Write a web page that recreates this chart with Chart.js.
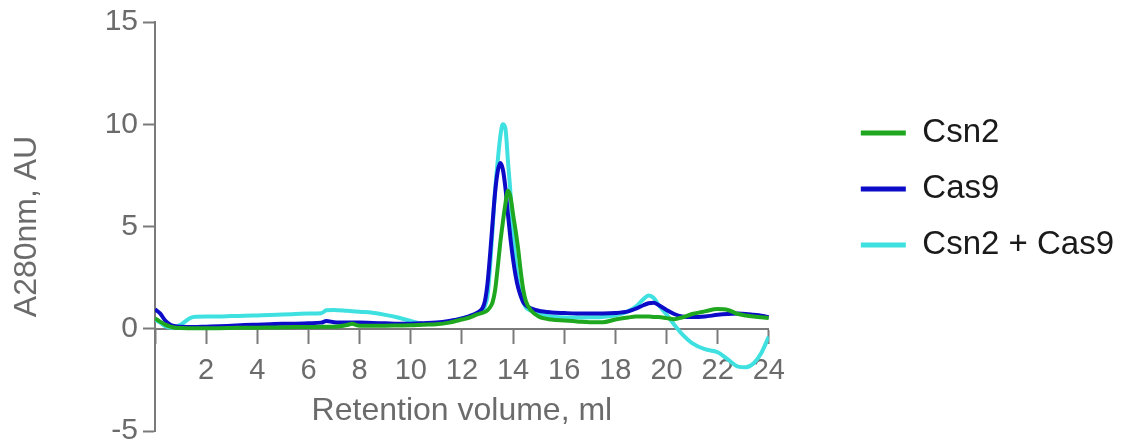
<!DOCTYPE html>
<html>
<head>
<meta charset="utf-8">
<title>SEC traces</title>
<script src="https://cdn.jsdelivr.net/npm/chart.js@4"></script>
<style>
  html, body { margin: 0; padding: 0; background: #fff; }
  #wrap { width: 1129px; height: 444px; }
</style>
</head>
<body>
<div id="wrap"><canvas id="secChart" width="1129" height="444"></canvas></div>
<script>
// retention volume (ml), shared by all three traces
const volume = [0, 0.2, 0.4, 0.6, 0.8, 1, 1.5, 2, 2.5, 3, 3.5, 4, 4.5, 5, 5.5, 6, 6.5, 6.7, 7, 7.5, 7.7, 8, 8.5, 9, 9.5, 10, 10.5, 11, 11.5, 12, 12.3, 12.6, 12.8, 12.9, 13.0, 13.1, 13.2, 13.3, 13.4, 13.5, 13.6, 13.7, 13.8, 13.9, 14.0, 14.1, 14.2, 14.3, 14.4, 14.5, 14.7, 15, 15.5, 16, 16.5, 17, 17.5, 18, 18.5, 18.8, 19.1, 19.3, 19.5, 19.7, 20, 20.3, 20.6, 21, 21.5, 22, 22.4, 22.8, 23.1, 23.4, 23.7, 24];

// A280 readings (AU)
const csn2 = [0.5, 0.35, 0.2, 0.1, 0.05, 0.04, 0.03, 0.03, 0.03, 0.04, 0.05, 0.05, 0.06, 0.07, 0.08, 0.08, 0.1, 0.1, 0.1, 0.18, 0.24, 0.15, 0.15, 0.15, 0.16, 0.17, 0.2, 0.22, 0.3, 0.45, 0.55, 0.7, 0.78, 0.82, 0.9, 1.05, 1.3, 1.9, 3.0, 4.2, 5.2, 6.1, 6.75, 6.45, 5.6, 4.8, 3.9, 2.8, 1.9, 1.35, 0.9, 0.6, 0.45, 0.4, 0.36, 0.32, 0.32, 0.45, 0.55, 0.6, 0.6, 0.6, 0.58, 0.57, 0.52, 0.47, 0.55, 0.72, 0.85, 0.96, 0.92, 0.72, 0.65, 0.6, 0.56, 0.52];
const cas9 = [0.95, 0.75, 0.4, 0.2, 0.12, 0.1, 0.08, 0.1, 0.12, 0.15, 0.18, 0.2, 0.22, 0.24, 0.25, 0.27, 0.3, 0.38, 0.32, 0.3, 0.3, 0.3, 0.28, 0.27, 0.25, 0.25, 0.27, 0.3, 0.38, 0.5, 0.62, 0.78, 1.0, 1.35, 2.2, 3.6, 5.2, 6.7, 7.7, 8.1, 7.8, 6.9, 5.6, 4.4, 3.4, 2.6, 2.0, 1.6, 1.3, 1.15, 1.0, 0.88, 0.8, 0.77, 0.75, 0.75, 0.75, 0.77, 0.85, 0.98, 1.15, 1.25, 1.27, 1.15, 0.92, 0.72, 0.6, 0.57, 0.6, 0.68, 0.72, 0.74, 0.72, 0.68, 0.64, 0.57];
const complex = [0.45, 0.3, 0.12, 0.05, 0.08, 0.2, 0.58, 0.6, 0.6, 0.62, 0.63, 0.65, 0.67, 0.7, 0.72, 0.74, 0.76, 0.9, 0.92, 0.88, 0.86, 0.83, 0.78, 0.68, 0.55, 0.38, 0.25, 0.27, 0.35, 0.5, 0.6, 0.75, 0.9, 1.1, 1.6, 3.0, 4.9, 6.8, 8.2, 9.4, 10.0, 9.8, 8.2, 6.6, 4.6, 3.3, 2.3, 1.7, 1.3, 1.05, 0.88, 0.72, 0.6, 0.55, 0.55, 0.56, 0.58, 0.66, 0.85, 1.08, 1.45, 1.62, 1.5, 1.15, 0.7, 0.2, -0.25, -0.7, -1.0, -1.15, -1.5, -1.85, -1.88, -1.7, -1.2, -0.38];

const seriesNames = ['Csn2', 'Cas9', 'Csn2 + Cas9'];
const seriesColors = ['#1fa81f', '#0c0cc8', '#3fe0e0'];
const xTicks = [2, 4, 6, 8, 10, 12, 14, 16, 18, 20, 22, 24];
const yTicks = [-5, 0, 5, 10, 15];

const axisGray = '#7a7a7a';
const textGray = '#6b6b6b';
const fontFamily = 'Arial, "Liberation Sans", sans-serif';

function toPoints(values) {
    return values.map((v, i) => ({ x: volume[i], y: v }));
}

const datasets = [csn2, cas9, complex].map((vals, i) => ({
    label: seriesNames[i],
    data: toPoints(vals),
    borderColor: seriesColors[i],
    backgroundColor: seriesColors[i],
    borderWidth: 4,
    pointRadius: 0,
    cubicInterpolationMode: 'monotone',
    fill: false
}));

new Chart(document.getElementById('secChart'), {
    type: 'line',
    data: { datasets: datasets },
    options: {
        responsive: false,
        animation: false,
        devicePixelRatio: 1,
        layout: { padding: { top: 22, bottom: 13, left: 0, right: 5 } },
        plugins: {
            tooltip: { enabled: false },
            legend: {
                position: 'right',
                align: 'start',
                maxWidth: 400, // otherwise capped to a share of the canvas width
                title: { display: true, text: '', font: { size: 10 }, padding: { top: 59.5, bottom: 0 } },
                labels: {
                    font: { size: 33, family: fontFamily },
                    color: '#1a1a1a',
                    boxWidth: 45,
                    boxHeight: 5,
                    padding: 23,
                    generateLabels: function(chart) {
                        return Chart.defaults.plugins.legend.labels.generateLabels(chart)
                            .map(item => Object.assign(item, { lineWidth: 0 }));
                    }
                }
            }
        },
        scales: {
            x: {
                type: 'linear',
                position: { y: 0 },
                min: 0,
                max: 24,
                afterBuildTicks: s => { s.ticks = [0].concat(xTicks).map(v => ({ value: v })); },
                ticks: {
                    callback: v => (v === 0 ? '' : v),
                    font: { size: 29, family: fontFamily },
                    color: textGray,
                    padding: 11,
                    maxRotation: 0,
                    autoSkip: false
                },
                grid: { drawOnChartArea: false, tickLength: 14, tickWidth: 2, tickColor: axisGray },
                border: { display: true, color: axisGray, width: 2 },
                title: {
                    display: true,
                    text: 'Retention volume, ml',
                    font: { size: 32, family: fontFamily },
                    color: textGray,
                    padding: { top: -8, bottom: 0 }
                }
            },
            y: {
                type: 'linear',
                position: 'left',
                min: -5,
                max: 15,
                afterBuildTicks: s => { s.ticks = yTicks.map(v => ({ value: v })); },
                afterFit: s => { s.width = 155; s.paddingTop = 0; s.paddingBottom = 0; },
                ticks: {
                    font: { size: 30, family: fontFamily },
                    color: textGray,
                    padding: 5
                },
                grid: { drawOnChartArea: false, tickLength: 12, tickWidth: 2, tickColor: axisGray },
                border: { display: true, color: axisGray, width: 2 },
                title: {
                    display: true,
                    text: 'A280nm, AU',
                    font: { size: 32, family: fontFamily },
                    color: textGray,
                    padding: { top: 8, bottom: 0 }
                }
            },
            // empty axis that only holds the gap between plot and legend
            gap: {
                type: 'linear',
                position: 'right',
                display: true,
                grid: { display: false },
                border: { display: false },
                ticks: { display: false },
                afterFit: s => { s.width = 69; s.paddingTop = 0; s.paddingBottom = 0; }
            }
        }
    }
});
</script>
</body>
</html>
